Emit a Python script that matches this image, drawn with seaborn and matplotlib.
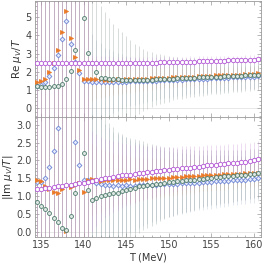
import numpy as np
import pandas as pd
import matplotlib
matplotlib.use("Agg")
import matplotlib.pyplot as plt
import seaborn as sns
from matplotlib.ticker import MultipleLocator

# temperaturas (MeV)
T = [134.5, 135.0, 135.5, 136.0, 136.5, 137.0, 137.5, 138.0, 138.5, 139.0, 139.5,
     140.0, 140.5, 141.0, 141.5, 142.0, 142.5, 143.0, 143.5, 144.0, 144.5, 145.0,
     145.5, 146.0, 146.5, 147.0, 147.5, 148.0, 148.5, 149.0, 149.5, 150.0, 150.5,
     151.0, 151.5, 152.0, 152.5, 153.0, 153.5, 154.0, 154.5, 155.0, 155.5, 156.0,
     156.5, 157.0, 157.5, 158.0, 158.5, 159.0, 159.5, 160.0, 160.5]

# Re mu/T
re_blue = [1.22, 1.27, 1.45, 1.78, 2.20, 2.90, 3.80, 4.80, 3.50, 2.52, 1.92, 1.52, 1.48,
           1.46, 1.42, 1.45, 1.43, 1.44, 1.45, 1.44, 1.46, 1.45, 1.47, 1.48, 1.47, 1.50,
           1.49, 1.52, 1.50, 1.53, 1.54, 1.53, 1.56, 1.57, 1.56, 1.58, 1.60, 1.58, 1.62,
           1.63, 1.62, 1.65, 1.64, 1.66, 1.68, 1.67, 1.69, 1.70, 1.69, 1.72, 1.73, 1.72, 1.75]
re_orange = [1.45, 1.50, 1.60, 2.00, 2.50, 3.20, 4.20, 5.30, 3.85, 2.80, 2.10, 1.62, 1.60,
             1.58, 1.60, 1.58, 1.55, 1.57, 1.56, 1.58, 1.57, 1.60, 1.58, 1.60, 1.61, 1.62,
             1.63, 1.65, 1.64, 1.66, 1.68, 1.67, 1.70, 1.71, 1.70, 1.72, 1.74, 1.73, 1.76,
             1.77, 1.76, 1.79, 1.80, 1.80, 1.82, 1.83, 1.84, 1.85, 1.85, 1.87, 1.89, 1.88, 1.92]
re_green = [1.20, 1.18, 1.15, 1.17, 1.20, 1.22, 1.31, 1.58, 2.05, 3.20, 6.50, 4.92, 3.04,
            2.50, 2.00, 1.68, 1.65, 1.62, 1.60, 1.58, 1.57, 1.55, 1.54, 1.53, 1.54, 1.55,
            1.56, 1.57, 1.58, 1.60, 1.60, 1.62, 1.63, 1.64, 1.65, 1.66, 1.67, 1.68, 1.69,
            1.70, 1.71, 1.72, 1.72, 1.74, 1.75, 1.76, 1.76, 1.78, 1.79, 1.80, 1.80, 1.82, 1.83]
re_purple = [2.48, 2.47, 2.48, 2.47, 2.46, 2.47, 2.48, 2.47, 2.46, 2.47, 2.46, 2.47, 2.46,
             2.47, 2.46, 2.47, 2.46, 2.47, 2.47, 2.46, 2.47, 2.47, 2.48, 2.47, 2.48, 2.49,
             2.48, 2.50, 2.50, 2.51, 2.52, 2.52, 2.53, 2.54, 2.54, 2.55, 2.56, 2.56, 2.57,
             2.58, 2.58, 2.59, 2.60, 2.60, 2.61, 2.62, 2.63, 2.63, 2.64, 2.65, 2.66, 2.66, 2.68]

# |Im mu/T|
im_blue = [1.40, 1.40, 1.52, 1.83, 2.27, 2.90, 3.60, 4.20, 3.50, 2.53, 1.87, 1.45, 1.45,
           1.42, 1.36, 1.33, 1.31, 1.30, 1.29, 1.30, 1.29, 1.30, 1.28, 1.28, 1.30, 1.30,
           1.31, 1.32, 1.32, 1.33, 1.33, 1.34, 1.35, 1.35, 1.36, 1.36, 1.37, 1.38, 1.38,
           1.39, 1.40, 1.40, 1.41, 1.42, 1.42, 1.43, 1.44, 1.45, 1.45, 1.46, 1.47, 1.48, 1.50]
im_orange = [1.45, 1.42, 1.28, 1.20, 1.12, 1.08, 1.20, 0.02, 1.25, 1.30, 1.38, 1.12, 1.45,
             1.47, 1.45, 1.43, 1.45, 1.44, 1.45, 1.46, 1.45, 1.46, 1.47, 1.46, 1.48, 1.48,
             1.49, 1.50, 1.50, 1.51, 1.52, 1.52, 1.53, 1.54, 1.54, 1.55, 1.56, 1.56, 1.57,
             1.58, 1.58, 1.59, 1.60, 1.60, 1.61, 1.62, 1.62, 1.63, 1.63, 1.64, 1.65, 1.65, 1.66]
im_green = [0.84, 0.72, 0.63, 0.52, 0.38, 0.26, 0.10, 0.05, 0.44, 1.10, 3.50, 2.20, 1.17,
            0.89, 0.95, 0.99, 1.02, 1.05, 1.08, 1.10, 1.13, 1.16, 1.20, 1.24, 1.27, 1.29,
            1.30, 1.32, 1.33, 1.35, 1.37, 1.39, 1.40, 1.41, 1.43, 1.44, 1.45, 1.46, 1.48,
            1.49, 1.50, 1.52, 1.53, 1.54, 1.55, 1.56, 1.57, 1.58, 1.59, 1.60, 1.61, 1.63, 1.64]
im_purple = [1.19, 1.20, 1.22, 1.23, 1.25, 1.27, 1.28, 1.30, 1.32, 1.34, 1.36, 1.38, 1.40,
             1.42, 1.45, 1.47, 1.50, 1.52, 1.54, 1.56, 1.58, 1.59, 1.60, 1.62, 1.64, 1.65,
             1.67, 1.68, 1.70, 1.71, 1.72, 1.74, 1.75, 1.76, 1.78, 1.79, 1.80, 1.82, 1.83,
             1.84, 1.86, 1.87, 1.88, 1.89, 1.90, 1.92, 1.93, 1.94, 1.96, 1.97, 1.98, 2.00, 2.03]

# errores (barras), enormes por debajo de 141 MeV
err_re_blue = [20.0] * 13 + [2.6, 2.3, 2.1, 1.9, 1.8, 1.7, 1.6, 1.5, 1.4, 1.35,
                             1.3, 1.25, 1.2, 1.15, 1.1, 1.05, 1.0, 0.98, 0.95, 0.92,
                             0.9, 0.88, 0.86, 0.84, 0.82, 0.8, 0.78, 0.76, 0.75, 0.74,
                             0.72, 0.71, 0.7, 0.69, 0.68, 0.67, 0.66, 0.65, 0.64, 0.63]
err_re_orange = [20.0] * 13 + [1.2, 1.1, 1.0, 0.95, 0.9, 0.85, 0.8, 0.78, 0.75, 0.72,
                               0.7, 0.68, 0.66, 0.64, 0.62, 0.6, 0.58, 0.57, 0.56, 0.55,
                               0.54, 0.53, 0.52, 0.51, 0.5, 0.49, 0.48, 0.47, 0.46, 0.45,
                               0.45, 0.44, 0.44, 0.43, 0.43, 0.42, 0.42, 0.41, 0.41, 0.4]
err_re_green = [20.0] * 13 + [4.5, 4.2, 3.9, 3.6, 3.3, 3.0, 2.8, 2.6, 2.4, 2.2,
                              2.0, 1.85, 1.7, 1.6, 1.5, 1.42, 1.35, 1.3, 1.25, 1.2,
                              1.15, 1.12, 1.1, 1.07, 1.05, 1.02, 1.0, 0.98, 0.96, 0.95,
                              0.93, 0.92, 0.9, 0.89, 0.88, 0.87, 0.86, 0.85, 0.84, 0.83]
err_re_purple = [20.0] * 13 + [0.45, 0.42, 0.4, 0.38, 0.37, 0.36, 0.35, 0.34, 0.33, 0.33,
                               0.32, 0.32, 0.31, 0.31, 0.3, 0.3, 0.3, 0.29, 0.29, 0.29,
                               0.28, 0.28, 0.28, 0.28, 0.27, 0.27, 0.27, 0.27, 0.26, 0.26,
                               0.26, 0.26, 0.26, 0.25, 0.25, 0.25, 0.25, 0.25, 0.25, 0.25]

err_im_blue = [20.0] * 13 + [2.2, 2.0, 1.85, 1.7, 1.6, 1.5, 1.45, 1.4, 1.35, 1.3,
                             1.25, 1.2, 1.15, 1.1, 1.06, 1.02, 0.98, 0.95, 0.92, 0.9,
                             0.88, 0.86, 0.84, 0.82, 0.8, 0.78, 0.77, 0.76, 0.75, 0.74,
                             0.73, 0.72, 0.71, 0.7, 0.69, 0.68, 0.67, 0.66, 0.66, 0.65]
err_im_orange = [20.0] * 13 + [1.0, 0.95, 0.9, 0.85, 0.8, 0.76, 0.72, 0.7, 0.68, 0.66,
                               0.64, 0.62, 0.6, 0.58, 0.57, 0.56, 0.55, 0.54, 0.53, 0.52,
                               0.51, 0.5, 0.49, 0.48, 0.47, 0.46, 0.45, 0.45, 0.44, 0.44,
                               0.43, 0.43, 0.42, 0.42, 0.41, 0.41, 0.4, 0.4, 0.4, 0.4]
err_im_green = [20.0] * 13 + [3.0, 2.7, 2.4, 2.2, 2.0, 1.85, 1.7, 1.6, 1.5, 1.42,
                              1.35, 1.3, 1.25, 1.2, 1.15, 1.1, 1.06, 1.02, 0.98, 0.95,
                              0.92, 0.9, 0.88, 0.86, 0.84, 0.82, 0.8, 0.79, 0.78, 0.77,
                              0.76, 0.75, 0.74, 0.73, 0.72, 0.71, 0.7, 0.7, 0.69, 0.68]
err_im_purple = [20.0] * 13 + [1.4, 1.3, 1.2, 1.1, 1.05, 1.0, 0.95, 0.9, 0.87, 0.84,
                               0.81, 0.78, 0.76, 0.74, 0.72, 0.7, 0.68, 0.66, 0.65, 0.64,
                               0.63, 0.62, 0.61, 0.6, 0.59, 0.58, 0.57, 0.56, 0.56, 0.55,
                               0.55, 0.54, 0.54, 0.53, 0.53, 0.52, 0.52, 0.52, 0.51, 0.51]

# estilo de cada serie: (color marcador, color barra, marcador, relleno)
estilos = {
    "blue": ("#6f86d6", "#a3b0c8", "D", "#e3e9f8"),
    "orange": ("#ea7a28", "#e8b090", ">", "#ea7a28"),
    "green": ("#4e7b6c", "#7d8e8a", "o", "#dde6e2"),
    "purple": ("#b457d6", "#c48ad6", "o", "#ffffff"),
}
tam = {"blue": 6, "orange": 8, "green": 8, "purple": 10}

sns.set_style("ticks")
plt.rcParams["font.family"] = ["DejaVu Sans"]

fig = plt.figure(figsize=(2.67, 2.67), dpi=100)
ax1 = fig.add_axes([0.13, 0.562, 0.846, 0.436])
ax2 = fig.add_axes([0.13, 0.112, 0.846, 0.450], sharex=ax1)

paneles = [
    (ax1, {"blue": (re_blue, err_re_blue), "orange": (re_orange, err_re_orange),
           "green": (re_green, err_re_green), "purple": (re_purple, err_re_purple)}),
    (ax2, {"blue": (im_blue, err_im_blue), "orange": (im_orange, err_im_orange),
           "green": (im_green, err_im_green), "purple": (im_purple, err_im_purple)}),
]

for ax, series in paneles:
    # primero todas las barras
    for nombre, (vals, errs) in series.items():
        c, cb, m, fc = estilos[nombre]
        ax.errorbar(T, vals, yerr=errs, fmt="none", ecolor=cb, elinewidth=0.7,
                    alpha=0.3, capsize=0, zorder=1)
    for nombre, (vals, errs) in series.items():
        c, cb, m, fc = estilos[nombre]
        df = pd.DataFrame({"T": T, "v": vals})
        sns.scatterplot(data=df, x="T", y="v", marker=m, s=tam[nombre],
                        facecolor=fc, edgecolor=c, linewidth=0.6, ax=ax, zorder=3)
    ax.axhline(0, color="#e4e4e4", lw=0.6, zorder=0)
    ax.set_xlabel("")
    ax.set_ylabel("")
    for s in ax.spines.values():
        s.set_visible(True)
        s.set_color("#999999")
        s.set_linewidth(0.6)
    ax.tick_params(which="both", direction="in", top=True, right=True,
                   colors="#999999", labelcolor="#444444", labelsize=7, width=0.5, pad=2)
    ax.tick_params(which="major", length=3)
    ax.tick_params(which="minor", length=1.5)
    ax.xaxis.set_major_locator(MultipleLocator(5))
    ax.xaxis.set_minor_locator(MultipleLocator(1))

ax1.set_xlim(134.27, 160.78)
ax1.set_ylim(-0.47, 5.9)
ax1.yaxis.set_major_locator(MultipleLocator(1))
ax1.yaxis.set_minor_locator(MultipleLocator(0.2))
ax1.tick_params(labelbottom=False)
ax1.set_ylabel(r"Re $\mu_V/T$", fontsize=7.5, color="#333333", labelpad=1)

ax2.set_ylim(-0.15, 3.22)
ax2.yaxis.set_major_locator(MultipleLocator(0.5))
ax2.yaxis.set_minor_locator(MultipleLocator(0.1))
ax2.set_ylabel(r"|Im $\mu_V/T$|", fontsize=7.5, color="#333333", labelpad=1)
ax2.set_xlabel("T (MeV)", fontsize=7, color="#333333", labelpad=2)

fig.savefig("out.png", dpi=100)
